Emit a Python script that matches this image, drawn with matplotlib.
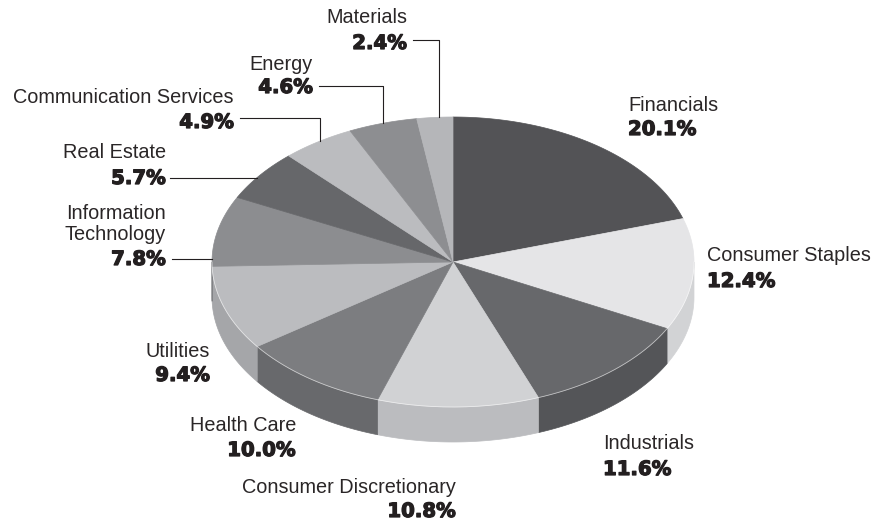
import numpy as np
import matplotlib.pyplot as plt
import matplotlib.patheffects as pe
from matplotlib.patches import Polygon

sectors = ["Financials", "Consumer Staples", "Industrials", "Consumer Discretionary",
           "Health Care", "Utilities", "Information\nTechnology", "Real Estate",
           "Communication Services", "Energy", "Materials"]
shares = [20.1, 12.4, 11.6, 10.8, 10.0, 9.4, 7.8, 5.7, 4.9, 4.6, 2.4]

top_colors = ["#535356", "#e5e5e7", "#67686b", "#d1d2d4", "#7c7d80", "#bbbcbf",
              "#8c8d90", "#66676a", "#bbbcbf", "#8d8e91", "#b5b6b9"]
side_colors = ["#46464a", "#d2d3d5", "#545558", "#bbbcbf", "#68696c", "#a5a6a9",
               "#7a7b7e", "#56575a", "#a5a6a9", "#7a7b7e", "#a0a1a4"]

# label placement: x, name baseline, pct baseline, alignment
label_pos = {
    "Financials": (628, 111, 135, "left"),
    "Consumer Staples": (707, 261, 287, "left"),
    "Industrials": (603, 449, 475, "left"),
    "Consumer Discretionary": (456, 493, 517, "right"),
    "Health Care": (296, 431, 456, "right"),
    "Utilities": (210, 357, 381, "right"),
    "Information\nTechnology": (166, 240, 265, "right"),
    "Real Estate": (166, 158, 184, "right"),
    "Communication Services": (234, 103, 128, "right"),
    "Energy": (313, 70, 93, "right"),
    "Materials": (407, 23, 49, "right"),
}
# leader lines: start x, y, corner x (None = straight to pie)
leaders = {
    "Materials": (413, 40, 439),
    "Energy": (319, 86, 383),
    "Communication Services": (240, 118, 320),
    "Real Estate": (170, 178, None),
    "Information\nTechnology": (172, 259, None),
}

cx, cy, rx, ry, depth = 453, 262, 241, 145, 35
ink = "#231f20"

fig = plt.figure(figsize=(8.87, 5.24), dpi=100)
ax = fig.add_axes([0, 0, 1, 1])
ax.set_xlim(0, 887)
ax.set_ylim(524, 0)
ax.axis("off")

vals = np.array(shares)
cum = np.concatenate([[0], np.cumsum(vals)]) / vals.sum()
angles = 90 - 360 * cum  # clockwise from 12 o'clock


def arc(a_from, a_to, n=80, dy=0):
    t = np.radians(np.linspace(a_from, a_to, n))
    return np.column_stack([cx + rx * np.cos(t), cy - ry * np.sin(t) + dy])


# side walls (front half only)
for i in range(len(vals)):
    lo, hi = angles[i + 1], angles[i]
    lo2, hi2 = max(lo, -180), min(hi, 0)
    if lo2 >= hi2:
        continue
    top = arc(hi2, lo2)
    bot = arc(lo2, hi2, dy=depth)
    ax.add_patch(Polygon(np.vstack([top, bot]), closed=True, fc=side_colors[i],
                         ec=side_colors[i], lw=0.5))

# top faces
for i in range(len(vals)):
    pts = np.vstack([[cx, cy], arc(angles[i], angles[i + 1])])
    ax.add_patch(Polygon(pts, closed=True, fc=top_colors[i], ec=top_colors[i], lw=0.5))

# faint highlight along the front rim
rim = arc(-180, 0, n=200)
ax.plot(rim[:, 0], rim[:, 1], color="white", lw=0.6, alpha=0.6)

heavy = [pe.withStroke(linewidth=0.9, foreground=ink)]

# labels
for name, val in zip(sectors, shares):
    x, yb, pb, ha = label_pos[name]
    ax.text(x, yb, name, ha=ha, va="baseline", fontsize=14.3,
            family="Liberation Sans", color="#2a2627", linespacing=1.12)
    ax.text(x, pb, f"{val:.1f}%", ha=ha, va="baseline", fontsize=14.2,
            family="DejaVu Sans", fontweight="bold", color=ink, path_effects=heavy)

# leader lines
for name, (x0, y0, xc) in leaders.items():
    if xc is None:
        xe = cx - rx * np.sqrt(1 - ((y0 - cy) / ry) ** 2)
        ax.plot([x0, xe], [y0, y0], color=ink, lw=0.8)
    else:
        ye = cy - ry * np.sqrt(1 - ((xc - cx) / rx) ** 2)
        ax.plot([x0, xc, xc], [y0, y0, ye], color=ink, lw=0.8)

fig.savefig("out.png", dpi=100)
